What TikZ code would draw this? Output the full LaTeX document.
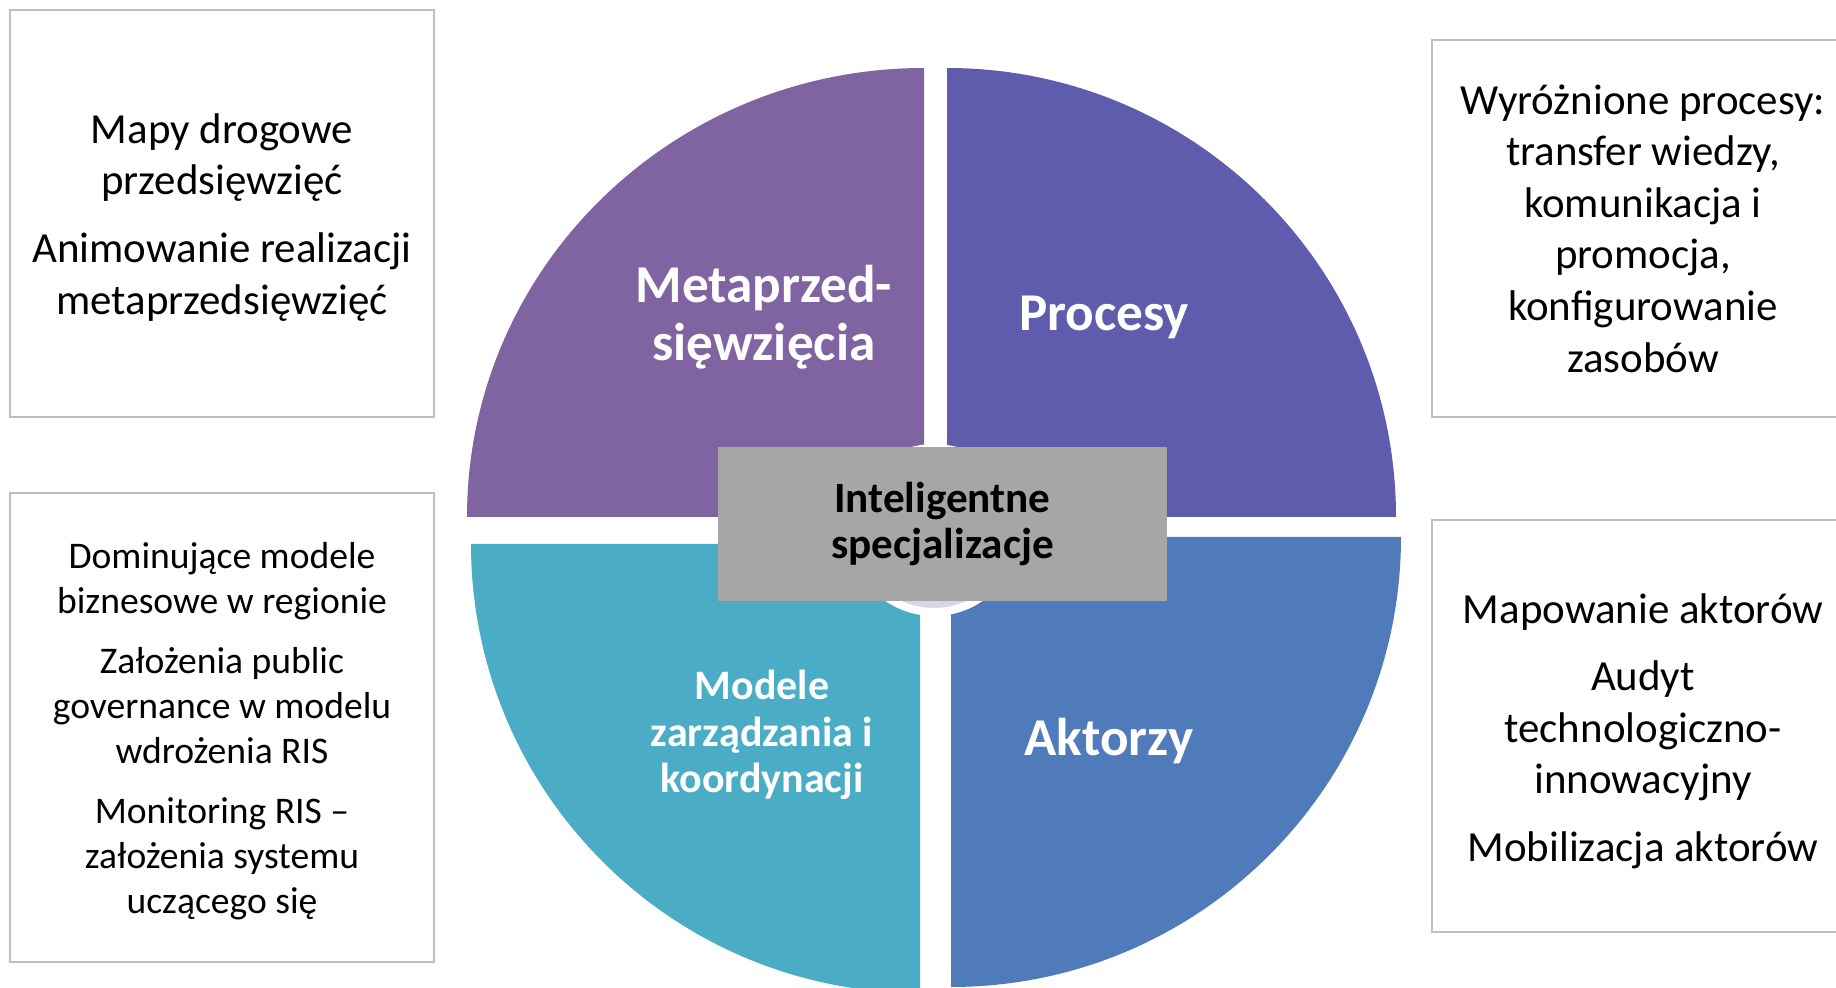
\documentclass[tikz,border=0pt]{standalone}
\usepackage{fontspec}
\setmainfont{Carlito}
\definecolor{metapurple}{HTML}{8064A2}
\definecolor{procviolet}{HTML}{5F5CAD}
\definecolor{aktorblue}{HTML}{507BBA}
\definecolor{modelteal}{HTML}{4BACC6}
\definecolor{hublav}{HTML}{D9D5E6}
\definecolor{hubgray}{HTML}{A6A6A6}
\definecolor{boxgray}{HTML}{BFBFBF}
\tikzset{
    infobox/.style={draw=boxgray, line width=1pt, align=center, inner sep=0pt, minimum width=212pt},
    bigtext/.style={font=\fontsize{21.45}{25.8}\selectfont},
    quadlabel/.style={text=white, align=center, font=\bfseries\fontsize{26.6}{29}\selectfont}
}

\begin{document}
\begin{tikzpicture}[x=0.5pt, y=-0.5pt]
        \useasboundingbox (0,0) rectangle (1836,988);

        \fill[metapurple] (924,517) -- (467,517) arc[start angle=180, end angle=270, x radius=457, y radius=449] -- cycle;
        \fill[procviolet] (947,517) -- (947,68) arc[start angle=270, end angle=360, radius=449] -- cycle;
        \fill[aktorblue] (951,537) -- (1401,537) arc[start angle=0, end angle=90, radius=450] -- cycle;
        \fill[modelteal] (920,544) -- (920,993) arc[start angle=90, end angle=180, radius=449] -- cycle;

        \filldraw[fill=hublav, draw=white, line width=4pt] (934,530) circle[radius=82];

        \node[fill=hubgray, minimum width=224.5pt, minimum height=77pt, align=center, font=\bfseries\fontsize{21.6}{23}\selectfont] (hub) at (942.5,524) {Inteligentne\\specjalizacje};

        \node[quadlabel] (meta) at (764,317.5) {Metaprzed-\\sięwzięcia};
        \node[quadlabel] (proc) at (1104,317) {Procesy};
        \node[quadlabel] (aktor) at (1109,741.5) {Aktorzy};
        \node[quadlabel, font=\bfseries\fontsize{21}{23.3}\selectfont] (model) at (762,735) {Modele\\zarządzania i\\koordynacji};

        \node[infobox, bigtext, minimum height=203.5pt] (roadmaps) at (222,213.5) {};
        \node[align=center, bigtext] (roadtext) at (222,217.5) {Mapy drogowe\\przedsięwzięć\\[8.2pt]Animowanie realizacji\\metaprzedsięwzięć};
        \node[infobox, bigtext, minimum width=211pt, minimum height=188.5pt] (processes) at (1643,228.5) {Wyróżnione procesy:\\transfer wiedzy,\\komunikacja i\\promocja,\\konfigurowanie\\zasobów};
        \node[infobox, bigtext, minimum width=211pt, minimum height=206pt] (actors) at (1643,726) {};
        \node[align=center, bigtext] (actortext) at (1643,731) {Mapowanie aktorów\\[8pt]Audyt\\technologiczno-\\innowacyjny\\[8pt]Mobilizacja aktorów};
        \node[infobox, minimum height=234.5pt] (governance) at (222,727.5) {};
        \node[align=center, font=\fontsize{18.8}{22.6}\selectfont] (govtext) at (222,731) {Dominujące modele\\biznesowe w regionie\\[7.3pt]Założenia public\\governance w modelu\\wdrożenia RIS\\[7.3pt]Monitoring RIS –\\założenia systemu\\uczącego się};

    \end{tikzpicture}
\end{document}
